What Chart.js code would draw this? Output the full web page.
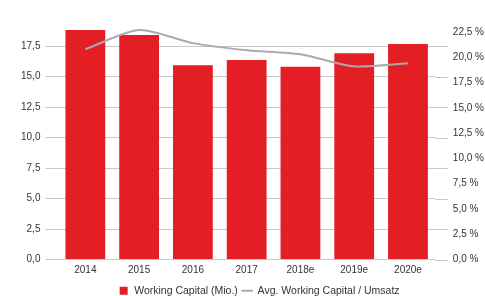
<!DOCTYPE html>
<html>
<head>
<meta charset="utf-8">
<script src="https://cdn.jsdelivr.net/npm/chart.js@4/dist/chart.umd.min.js"></script>
<style>
  html, body { margin: 0; padding: 0; background: #fff; }
  #wrap { width: 485px; height: 296px; }
</style>
</head>
<body>
<div id="wrap"><canvas id="chart"></canvas></div>
<script>
const years = ['2014', '2015', '2016', '2017', '2018e', '2019e', '2020e']
const workingCapital = [18.82, 18.41, 15.92, 16.35, 15.80, 16.90, 17.67]
const avgRatio = [20.8, 22.7, 21.4, 20.7, 20.3, 19.1, 19.4]

const fmt = v => v.toFixed(1).replace('.', ',')

// the left grid lines stick out a little past the plot on the right too
const gridTails = {
  id: 'gridTails',
  beforeDatasetsDraw(chart) {
    const ctx = chart.ctx
    const y = chart.scales.y
    const right = chart.chartArea.right
    ctx.save()
    ctx.strokeStyle = '#c8c8c8'
    ctx.lineWidth = 1
    y.ticks.forEach(t => {
      const py = Math.round(y.getPixelForValue(t.value)) + 0.5
      ctx.beginPath()
      ctx.moveTo(right, py)
      ctx.lineTo(right + 13, py)
      ctx.stroke()
    })
    ctx.restore()
  }
}

Chart.defaults.font.family = '"Liberation Sans", Arial, sans-serif'
Chart.defaults.color = '#333'

new Chart(document.getElementById('chart').getContext('2d'), {
  data: {
    labels: years,
    datasets: [
      {
        type: 'bar',
        label: 'Working Capital (Mio.)',
        data: workingCapital,
        backgroundColor: '#e31e24',
        borderWidth: 0,
        categoryPercentage: 1,
        barPercentage: 0.74,
        yAxisID: 'y',
        pointStyle: 'rect',
        clip: false,
        order: 0
      },
      {
        type: 'line',
        label: 'Avg. Working Capital / Umsatz',
        data: avgRatio,
        borderColor: '#aaaaaa',
        backgroundColor: '#aaaaaa',
        borderWidth: 2,
        pointRadius: 0,
        pointStyle: 'line',
        tension: 0.25,
        yAxisID: 'y1',
        clip: false,
        order: -1
      }
    ]
  },
  options: {
    responsive: true,
    maintainAspectRatio: false,
    animation: false,
    layout: { padding: { top: 32, left: 16, right: -17, bottom: -10 } },
    plugins: {
      tooltip: { enabled: false },
      legend: {
        position: 'bottom',
        labels: {
          usePointStyle: true,
          boxHeight: 8,
          padding: 4,
          font: { size: 10.5 },
          sort: (a, b) => a.datasetIndex - b.datasetIndex
        }
      }
    },
    scales: {
      x: {
        grid: { display: false, drawTicks: false },
        border: { display: false },
        ticks: { padding: 5, font: { size: 10 } }
      },
      y: {
        position: 'left',
        min: 0,
        max: 18.65,
        border: { display: false },
        grid: { color: '#c8c8c8', tickLength: 13 },
        ticks: {
          stepSize: 2.5,
          includeBounds: false,
          padding: 5,
          font: { size: 10 },
          callback: v => fmt(v)
        }
      },
      y1: {
        position: 'right',
        min: 0,
        max: 22.5,
        border: { display: false },
        grid: { display: false, drawTicks: false },
        ticks: {
          stepSize: 2.5,
          padding: 18,
          font: { size: 10 },
          callback: v => fmt(v) + ' %'
        }
      }
    }
  },
  plugins: [gridTails]
})
</script>
</body>
</html>
